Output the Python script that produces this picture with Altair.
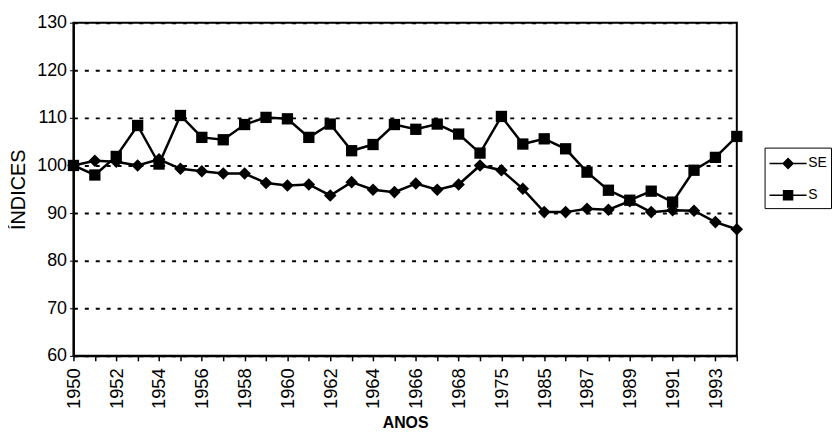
import altair as alt
import pandas as pd

# categories along the x axis (the series jumps from 1969 to 1975, 1980, 1985)
anos = ["1950", "1951", "1952", "1953", "1954", "1955", "1956", "1957",
        "1958", "1959", "1960", "1961", "1962", "1963", "1964", "1965",
        "1966", "1967", "1968", "1969", "1975", "1980", "1985", "1986",
        "1987", "1988", "1989", "1990", "1991", "1992", "1993", "1994"]
rotulos = anos[::2]

# indices
se = [100.0, 101.0, 100.8, 100.0, 101.3, 99.3, 98.8, 98.3, 98.3, 96.3,
      95.8, 96.0, 93.7, 96.5, 94.9, 94.4, 96.2, 94.9, 96.0, 100.0,
      99.0, 95.1, 90.2, 90.2, 90.9, 90.7, 92.5, 90.2, 90.6, 90.5,
      88.1, 86.6]
s = [100.0, 98.0, 101.9, 108.4, 100.3, 110.5, 105.9, 105.4, 108.6, 110.1,
     109.8, 105.9, 108.7, 103.1, 104.4, 108.6, 107.6, 108.7, 106.6, 102.6,
     110.3, 104.5, 105.6, 103.5, 98.6, 94.8, 92.7, 94.6, 92.3, 99.0,
     101.7, 106.1]
series = ["SE", "S"]

df = pd.DataFrame({
    "ano": anos * 2,
    "serie": ["SE"] * len(anos) + ["S"] * len(anos),
    "valor": se + s,
})

FONT = "Liberation Sans"

# legend symbols, all filled: a thin bar for the line plus the marker in its middle
sym_diamond = "M-1,-0.07H2.4V0.07H-1Z M0.7,-0.55L1.25,0L0.7,0.55L0.15,0Z"
sym_square = "M-1,-0.07H2.4V0.07H-1Z M0.22,-0.48H1.18V0.48H0.22Z"

label_expr = "indexof([" + ",".join(f"'{r}'" for r in rotulos) + "], datum.label) >= 0 ? datum.label : ''"

x = alt.X("ano:O", sort=anos,
          scale=alt.Scale(type="point", padding=0),
          axis=alt.Axis(title="ANOS", labelAngle=270, labelExpr=label_expr,
                        labelFont=FONT, labelFontSize=18.5, labelColor="black",
                        labelPadding=7, tickSize=5, tickColor="black", tickWidth=1.5,
                        domainColor="black", domainWidth=2, grid=False,
                        titleFont=FONT, titleFontSize=16, titleFontWeight="bold",
                        titleColor="black", titlePadding=6))
y = alt.Y("valor:Q",
          scale=alt.Scale(domain=[60, 130], nice=False, zero=False),
          axis=alt.Axis(title="ÍNDICES", values=[60, 70, 80, 90, 100, 110, 120, 130],
                        labelFont=FONT, labelFontSize=18, labelColor="black",
                        labelPadding=3, tickSize=4, tickColor="black",
                        domainColor="black", domainWidth=2,
                        grid=True, gridColor="black", gridDash=[4, 7], gridWidth=2,
                        gridOpacity=1,
                        titleFont=FONT, titleFontSize=20, titleFontWeight="normal",
                        titleColor="black", titlePadding=8))

base = alt.Chart(df)

lines = base.mark_line(color="black", strokeWidth=2.5).encode(x=x, y=y, detail="serie:N")

points = base.mark_point(filled=True, color="black", opacity=1).encode(
    x=x, y=y,
    shape=alt.Shape("serie:N", scale=alt.Scale(domain=series, range=["diamond", "square"]),
                    legend=None),
    size=alt.Size("serie:N", scale=alt.Scale(domain=series, range=[160, 130]), legend=None),
)

# layer with no rows left after the filter: it only carries the legend
legend_layer = base.transform_filter(alt.datum.valor < 0).mark_point(
    filled=True, color="black", opacity=1
).encode(
    x=x, y=y,
    shape=alt.Shape("serie:N", scale=alt.Scale(domain=series, range=[sym_diamond, sym_square]),
                    legend=alt.Legend(title=None, orient="none", legendX=697, legendY=126,
                                      strokeColor="black", fillColor="white", padding=4,
                                      symbolSize=484, symbolOpacity=1,
                                      symbolFillColor="black", labelFont=FONT,
                                      labelFontSize=14, labelColor="black",
                                      labelOffset=16, rowPadding=10)),
)

chart = alt.layer(lines, points, legend_layer).resolve_scale(
    shape="independent", size="independent"
).properties(
    width=669, height=336,
    padding={"left": 0, "top": 4, "right": 0, "bottom": 0},
).configure_view(
    stroke="black", strokeWidth=2
)

chart.save("out.html", embed_options={"renderer": "svg", "actions": False})
